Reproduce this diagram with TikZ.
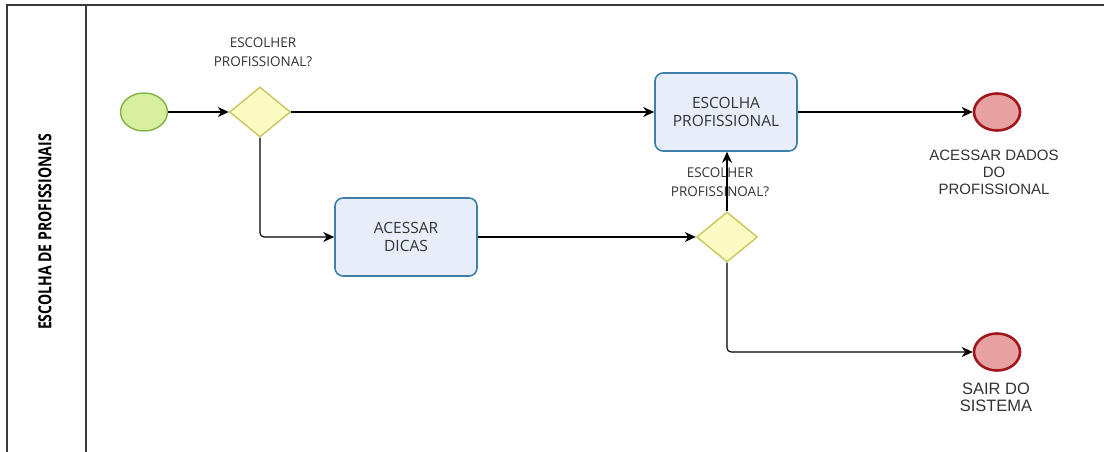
\documentclass[tikz,border=0pt]{standalone}
\usepackage{fontspec}
\setmainfont{Open Sans}
\newfontfamily\arialfont{Liberation Sans}
\usetikzlibrary{shapes.geometric,arrows.meta}
\definecolor{startfill}{HTML}{D8EFA0}
\definecolor{startdraw}{HTML}{7CB342}
\definecolor{gwfill}{HTML}{FDFBC4}
\definecolor{gwdraw}{HTML}{C9C75A}
\definecolor{taskfill}{HTML}{E7EEFA}
\definecolor{taskdraw}{HTML}{3F7FAA}
\definecolor{endfill}{HTML}{E8A2A4}
\definecolor{enddraw}{HTML}{A0161C}
\definecolor{lanedraw}{HTML}{3A3A3A}
\definecolor{labeltext}{HTML}{333333}
\tikzset{
  x=1pt, y=-1pt,
  lane/.style={draw=lanedraw, line width=1.3pt},
  startev/.style={ellipse, draw=startdraw, fill=startfill, line width=1.4pt,
    minimum width=47pt, minimum height=38pt, inner sep=0pt},
  endev/.style={ellipse, draw=enddraw, fill=endfill, line width=2.6pt,
    minimum width=46pt, minimum height=37pt, inner sep=0pt},
  gateway/.style={diamond, draw=gwdraw, fill=gwfill, line width=1.4pt,
    minimum width=61pt, minimum height=50pt, inner sep=0pt, aspect=1.2},
  task/.style={rectangle, rounded corners=8pt, draw=taskdraw, fill=taskfill,
    line width=1.6pt, minimum width=142pt, minimum height=78pt,
    align=center, font=\fontsize{15.5}{18}\selectfont, text=labeltext},
  gwlabel/.style={align=center, font=\fontsize{13.5}{19}\selectfont, text=labeltext},
  evlabel/.style={align=center, font=\arialfont\fontsize{15}{17}\selectfont, text=labeltext},
  flow/.style={draw=black, line width=1.1pt, -{Stealth[length=11pt,width=10pt,inset=3.5pt]}, rounded corners=4pt},
}
\begin{document}
\begin{tikzpicture}
\useasboundingbox (0,0) rectangle (1106,452);
% pool and lane frame
\draw[lane] (7,452) -- (7,5) -- (1104,5);
\draw[lane] (86,5) -- (86,452);
\node[rotate=90, font=\fontsize{18}{18}\selectfont\bfseries, text=black] (lanename) at (45,232)
  {\scalebox{0.78}[1]{ESCOLHA DE PROFISSIONAIS}};

% flow objects
\node[startev] (start) at (144,112) {};
\node[gateway] (gw1) at (260,112) {};
\node[gwlabel] (gw1lbl) at (263,52) {ESCOLHER\\PROFISSIONAL?};
\node[task] (dicas) at (406,237) {ACESSAR\\DICAS};
\node[task] (escolha) at (726,112) {ESCOLHA\\PROFISSIONAL};
\node[gateway] (gw2) at (727,237) {};
\node[gwlabel] (gw2lbl) at (720,182) {ESCOLHER\\PROFISSINOAL?};
\node[endev] (enddados) at (997,112) {};
\node[evlabel] (enddadoslbl) at (994,172) {ACESSAR DADOS\\DO\\PROFISSIONAL};
\node[endev] (endsair) at (997,352) {};
\node[evlabel, font=\arialfont\fontsize{16.5}{17}\selectfont] (endsairlbl) at (996,397) {SAIR DO\\SISTEMA};

% sequence flows
\draw[flow] (start) -- (gw1);
\draw[flow] (gw1) -- (escolha);
\draw[flow] (gw1.south) |- (dicas.west);
\draw[flow] (dicas) -- (gw2);
\draw[flow] (gw2.north) -- (escolha.south -| gw2.north);
\draw[flow] (escolha) -- (enddados);
\draw[flow] (gw2.south) |- (endsair.west);
\end{tikzpicture}
\end{document}
